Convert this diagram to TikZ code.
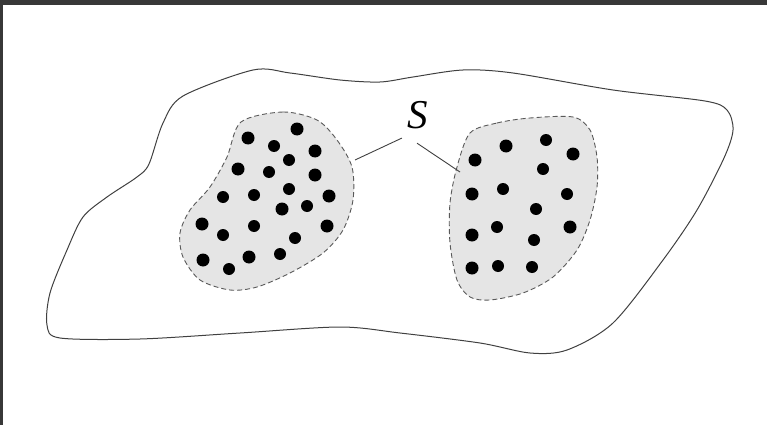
\documentclass[tikz,border=0pt]{standalone}
\usepackage{fontspec}
\setmainfont{Liberation Serif}
\begin{document}
\begin{tikzpicture}[x=1pt,y=-1pt,
  outline/.style={draw=black!75,line width=1pt},
  blob/.style={fill=gray!20,draw=black!65,line width=0.9pt,dash pattern=on 5pt off 3pt},
  seed/.style={fill=black},
  link/.style={draw=black!75,line width=0.9pt}]
\useasboundingbox (0,0) rectangle (767,425);
% frame of the screenshot
\fill[black!78] (0,0) rectangle (767,5);
\fill[black!78] (0,0) rectangle (3,425);
% the whole region
\draw[outline] plot[smooth cycle] coordinates {(253,70) (290,73) (340,80) (380,82) (413,77) (463,70) (513,73) (613,90) (705,101) (727,110) (733,130) (724,158) (697,210) (663,260) (613,323) (567,350) (530,353) (480,343) (400,333) (340,327) (240,333) (140,339) (60,338) (47,325) (50,293) (67,250) (83,217) (107,197) (137,177) (149,164) (163,123) (183,96)};
% the two parts of S
\draw[blob] plot[smooth cycle] coordinates {(241,122) (283,112) (317,120) (337,140) (352,167) (353,200) (343,230) (323,253) (290,273) (257,287) (230,290) (200,280) (183,257) (180,233) (190,210) (210,187) (227,157)};
\draw[blob] plot[smooth cycle] coordinates {(470,133) (497,123) (530,118) (573,117) (590,130) (597,157) (597,187) (590,220) (577,250) (553,277) (523,293) (490,300) (470,297) (457,280) (450,243) (450,203) (457,167)};
% left points
\fill[seed] (248,138) circle (6.5);
\fill[seed] (297,129) circle (6.5);
\fill[seed] (274,146) circle (6);
\fill[seed] (315,151) circle (6.5);
\fill[seed] (289,160) circle (6);
\fill[seed] (238,169) circle (6.5);
\fill[seed] (269,172) circle (6);
\fill[seed] (315,175) circle (6.5);
\fill[seed] (289,189) circle (6);
\fill[seed] (223,197) circle (6);
\fill[seed] (254,195) circle (6);
\fill[seed] (329,196) circle (6.5);
\fill[seed] (282,209) circle (6.5);
\fill[seed] (307,206) circle (6);
\fill[seed] (202,224) circle (6.5);
\fill[seed] (223,235) circle (6);
\fill[seed] (254,226) circle (6);
\fill[seed] (327,226) circle (6.5);
\fill[seed] (295,238) circle (6);
\fill[seed] (203,260) circle (6.5);
\fill[seed] (229,269) circle (6);
\fill[seed] (249,257) circle (6.5);
\fill[seed] (280,254) circle (6);
% right points
\fill[seed] (506,146) circle (6.5);
\fill[seed] (546,140) circle (6);
\fill[seed] (475,160) circle (6.5);
\fill[seed] (573,154) circle (6.5);
\fill[seed] (543,169) circle (6);
\fill[seed] (472,194) circle (6.5);
\fill[seed] (503,189) circle (6);
\fill[seed] (567,194) circle (6);
\fill[seed] (536,209) circle (6);
\fill[seed] (472,235) circle (6.5);
\fill[seed] (497,227) circle (6);
\fill[seed] (570,227) circle (6.5);
\fill[seed] (534,240) circle (6);
\fill[seed] (472,268) circle (6.5);
\fill[seed] (498,266) circle (6);
\fill[seed] (532,267) circle (6);
% label
\node[circle,minimum size=56pt,inner sep=0pt,font=\fontsize{41}{48}\selectfont] (S) at (418,115) {\textit{S}};
\coordinate (lefttip) at (355,160);
\coordinate (righttip) at (460,172);
\draw[link] (S.235) -- (lefttip);
\draw[link] (S.268) -- (righttip);
\end{tikzpicture}
\end{document}
